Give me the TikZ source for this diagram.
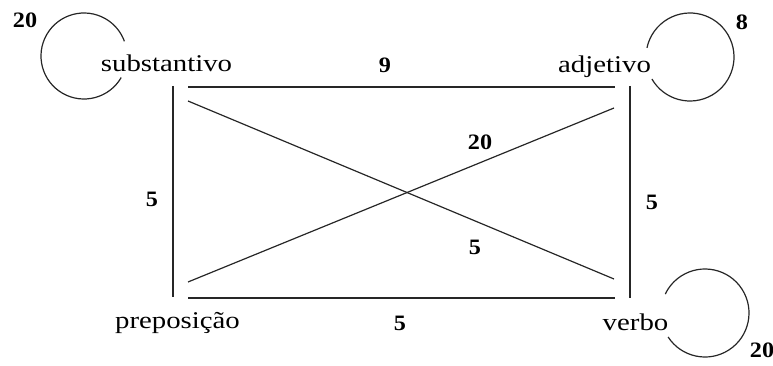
\documentclass[tikz,border=0pt]{standalone}
\usepackage{fontspec}
\setmainfont{Liberation Serif}
\newfontfamily\wordfont[FakeStretch=1.2]{Liberation Serif}
\newfontfamily\numfont[FakeStretch=1.1]{Liberation Serif}
\begin{document}
\begin{tikzpicture}[x=1pt,y=-1pt,
  word/.style={font=\wordfont\fontsize{24}{26}\selectfont, inner sep=0pt, anchor=base},
  weight/.style={font=\numfont\bfseries\fontsize{22}{24}\selectfont, inner sep=0pt},
  edge/.style={draw=black!85, line width=1.2pt},
  loopline/.style={draw=black!85, line width=1.2pt}]
\useasboundingbox (0,0) rectangle (773,366);
% words
\node[word] (sub) at (166.5,72) {substantivo};
\node[word] (adj) at (604.5,73) {adjetivo};
\node[word] (pre) at (177.5,328) {preposição};
\node[word] (ver) at (635.5,330) {verbo};
% endpoints of connectors
\coordinate (sh) at (188,87);  \coordinate (ah) at (615,87);
\coordinate (sv) at (173,86);  \coordinate (pv) at (173,297);
\coordinate (av) at (630,86);  \coordinate (vv) at (630,298);
\coordinate (ph) at (188,298); \coordinate (vh) at (615,298);
\coordinate (sd) at (188,101); \coordinate (vd) at (614,279);
\coordinate (pd) at (188,282); \coordinate (ad) at (614,108);
% loop centres
\coordinate (cs) at (84,56);
\coordinate (ca) at (690,57);
\coordinate (cv) at (705,313);
% connectors
\draw[edge] (sh) -- (ah);
\draw[edge] (sv) -- (pv);
\draw[edge] (av) -- (vv);
\draw[edge] (ph) -- (vh);
\draw[edge] (sd) -- (vd);
\draw[edge] (pd) -- (ad);
% loops
\draw[loopline] ([shift={(30:43)}]cs) arc[start angle=30, end angle=340, radius=43];
\draw[loopline] ([shift={(150:44)}]ca) arc[start angle=150, end angle=-168, radius=44];
\draw[loopline] ([shift={(147:44)}]cv) arc[start angle=147, end angle=-154.5, radius=44];
% weights
\node[weight] (w1) at (25,20) {20};
\node[weight] (w2) at (742,22) {8};
\node[weight] (w3) at (385,65) {9};
\node[weight] (w4) at (480,142) {20};
\node[weight] (w5) at (152,199) {5};
\node[weight] (w6) at (652,202) {5};
\node[weight] (w7) at (475,247) {5};
\node[weight] (w8) at (400,323) {5};
\node[weight] (w9) at (762,350) {20};
\end{tikzpicture}
\end{document}
